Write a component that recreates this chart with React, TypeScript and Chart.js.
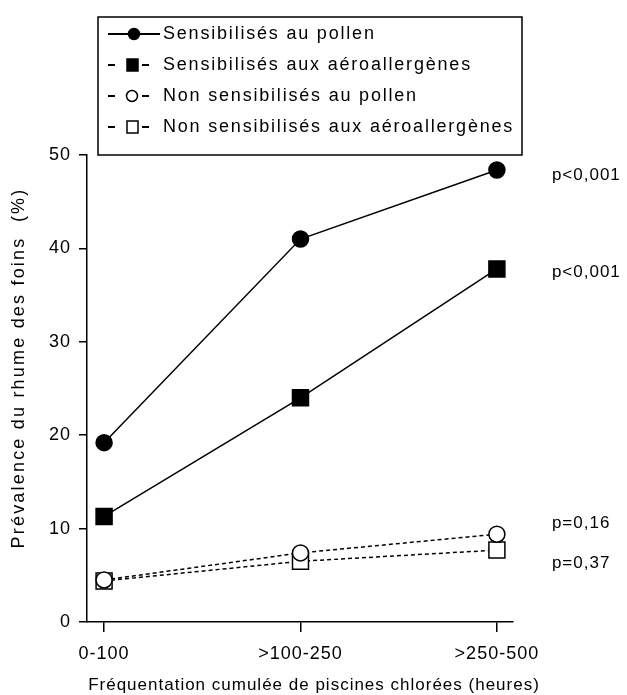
import React, { useEffect, useRef } from 'react';
import { Chart, registerables } from 'chart.js';

Chart.register(...registerables);

const categories = ['0-100', '>100-250', '>250-500'];
const seriesNames = [
  'Sensibilisés au pollen',
  'Sensibilisés aux aéroallergènes',
  'Non sensibilisés au pollen',
  'Non sensibilisés aux aéroallergènes',
];
const pollenSens = [19.2, 41.0, 48.4];
const aeroSens = [11.3, 24.0, 37.8];
const pollenNonSens = [4.5, 7.4, 9.4];
const aeroNonSens = [4.4, 6.5, 7.7];
const yTicks = [0, 10, 20, 30, 40, 50];
const pValues = ['p<0,001', 'p<0,001', 'p=0,16', 'p=0,37'];
const yTitle = 'Prévalence du rhume des foins  (%)';
const xTitle = 'Fréquentation cumulée de piscines chlorées (heures)';

const FONT = "'Liberation Sans', Arial, sans-serif";
const FS = 17;
const LS = '1px';

const seriesValues = [pollenSens, aeroSens, pollenNonSens, aeroNonSens];
const seriesStyles = [
  { shape: 'circle', filled: true, dashed: false },
  { shape: 'rect', filled: true, dashed: false },
  { shape: 'circle', filled: false, dashed: true },
  { shape: 'rect', filled: false, dashed: true },
];
const pLabelDy = [5, 3, -11, 13];

function setSpacing(chart: any) {
  chart.ctx.letterSpacing = LS;
}

const extrasPlugin = {
  id: 'extras',
  beforeLayout(chart: any) { setSpacing(chart); },
  beforeDraw(chart: any) { setSpacing(chart); },
  afterDraw(chart: any) {
    const ctx = chart.ctx as CanvasRenderingContext2D;
    ctx.save();
    (ctx as any).letterSpacing = LS;
    ctx.fillStyle = '#000';
    ctx.strokeStyle = '#000';
    ctx.font = `${FS}px ${FONT}`;

    // p-value labels
    ctx.textAlign = 'left';
    ctx.textBaseline = 'middle';
    pValues.forEach((txt, i) => {
      const meta = chart.getDatasetMeta(i);
      const pt = meta.data[meta.data.length - 1];
      ctx.fillText(txt, pt.x + 55, pt.y + pLabelDy[i]);
    });

    // x title
    ctx.textAlign = 'center';
    ctx.textBaseline = 'middle';
    ctx.fillText(xTitle, 314, 685);

    // y title
    ctx.save();
    (ctx as any).letterSpacing = '2.2px';
    ctx.font = `18px ${FONT}`;
    ctx.translate(19, 368);
    ctx.rotate(-Math.PI / 2);
    ctx.fillText(yTitle, 0, 0);
    ctx.restore();

    // legend box
    const bx = 98, by = 17, bw = 424, bh = 138;
    ctx.lineWidth = 1.5;
    ctx.strokeRect(bx, by, bw, bh);
    ctx.textAlign = 'left';
    (ctx as any).letterSpacing = '1.8px';
    ctx.font = `18px ${FONT}`;
    seriesNames.forEach((name, i) => {
      const y = 34 + i * 31;
      const st = seriesStyles[i];
      ctx.lineWidth = 2;
      ctx.beginPath();
      if (i === 0) {
        ctx.moveTo(108, y); ctx.lineTo(160, y);
      } else {
        ctx.moveTo(108, y); ctx.lineTo(115, y);
        ctx.moveTo(142, y); ctx.lineTo(149, y);
      }
      ctx.stroke();
      ctx.lineWidth = 1.5;
      ctx.beginPath();
      if (st.shape === 'circle') {
        ctx.arc(i === 0 ? 134 : 132, y, 5.5, 0, Math.PI * 2);
      } else {
        ctx.rect(127, y - 6, 11, 12);
      }
      ctx.fillStyle = st.filled ? '#000' : '#fff';
      ctx.fill();
      ctx.stroke();
      ctx.fillStyle = '#000';
      ctx.fillText(name, 163, y);
    });
    ctx.restore();
  },
};

export default function App() {
  const ref = useRef<HTMLCanvasElement | null>(null);
  useEffect(() => {
    if (!ref.current) return;
    Chart.defaults.font.family = FONT;
    Chart.defaults.font.size = FS;
    Chart.defaults.color = '#000';
    const datasets = seriesValues.map((vals, i) => {
      const st = seriesStyles[i];
      return {
        label: seriesNames[i],
        data: vals.map((v, k) => ({ x: k, y: v })),
        borderColor: '#000',
        borderWidth: 1.5,
        borderDash: st.dashed ? [4, 3] : [],
        pointStyle: st.shape,
        pointRadius: st.shape === 'circle' ? 8 : 11.3,
        pointBackgroundColor: st.filled ? '#000' : '#fff',
        pointBorderColor: '#000',
        pointBorderWidth: 1.5,
        fill: false,
        tension: 0,
        clip: false as any,
      };
    });
    const chart = new Chart(ref.current, {
      type: 'line',
      data: { datasets },
      plugins: [extrasPlugin],
      options: {
        animation: false,
        responsive: true,
        maintainAspectRatio: false,
        layout: { padding: { left: 0, right: 114, top: 155, bottom: 0 } },
        plugins: { legend: { display: false }, tooltip: { enabled: false } },
        scales: {
          x: {
            type: 'linear',
            min: -0.087,
            max: 2.082,
            afterBuildTicks: (s: any) => { s.ticks = categories.map((_, i) => ({ value: i })); },
            afterFit: (s: any) => { s.height = 73; },
            border: { color: '#000', width: 1.5 },
            grid: { drawOnChartArea: false, drawTicks: true, tickLength: 10, color: '#000', lineWidth: 1.5 },
            ticks: {
              color: '#000',
              padding: 11,
              maxRotation: 0,
              autoSkip: false,
              font: { size: 18 },
              callback: (v: any) => categories[Math.round(Number(v))] ?? '',
            },
          },
          y: {
            min: 0,
            max: 50,
            afterBuildTicks: (s: any) => { s.ticks = yTicks.map(v => ({ value: v })); },
            afterFit: (s: any) => { s.width = 87; },
            border: { color: '#000', width: 1.5 },
            grid: { drawOnChartArea: false, drawTicks: true, tickLength: 8, color: '#000', lineWidth: 1.5 },
            ticks: { color: '#000', padding: 8, font: { size: 18 } },
            title: { display: false },
          },
        },
      },
    });
    return () => chart.destroy();
  }, []);
  return (
    <div style={{ position: 'fixed', left: 0, top: 0, width: 627, height: 695, background: '#fff' }}>
      <canvas ref={ref} />
    </div>
  );
}
